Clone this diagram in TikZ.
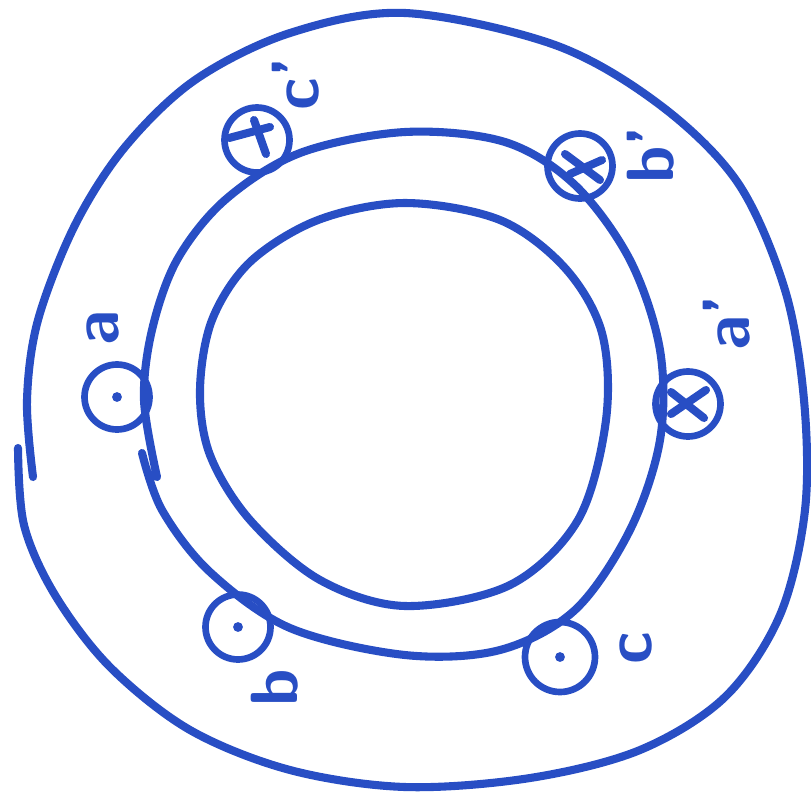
\documentclass[tikz,border=0pt]{standalone}
\usepackage{xcolor}
\definecolor{ink}{RGB}{40,78,196}
\begin{document}
\begin{tikzpicture}[x=0.02cm, y=-0.02cm, ink, line width=4.6pt, line cap=round, line join=round,
  every node/.style={font=\fontsize{38}{42}\selectfont\sffamily\bfseries, text=ink},
  poleloop/.style={circle, draw=ink, line width=3.8pt, minimum size=1.3cm, inner sep=0pt},
  polelbl/.style={rotate=90, inner sep=0pt}]
  \useasboundingbox (0,0) rectangle (811,795);
  \draw plot[smooth, tension=0.55] coordinates {(18,448) (24,525) (55,595) (110,667) (190,730) (290,770)
    (405,787) (530,778) (640,750) (725,697) (780,615) (805,510) (804,400) (785,290)
    (738,183) (660,105) (555,45) (405,13) (290,33) (195,80) (125,147) (75,225)
    (38,320) (27,400) (33,477)};
  \draw plot[smooth, tension=0.55] coordinates {(142,453) (162,510) (210,572) (290,628) (405,655)
    (500,650) (575,610) (630,530) (660,440) (660,350) (630,260) (575,185) (505,142)
    (405,132) (300,153) (225,200) (177,260) (152,330) (144,400) (157,477)};
  \draw plot[smooth cycle, tension=0.55] coordinates {(405,203) (500,220) (565,268) (602,333)
    (606,420) (578,520) (510,585) (405,606) (320,580) (250,520) (210,455)
    (200,390) (212,320) (250,262) (318,220)};
  \node[poleloop] (ap) at (117,397) {};
  \node[poleloop] (bp) at (238,627) {};
  \node[poleloop, minimum size=1.4cm] (cp) at (560,657) {};
  \node[poleloop] (apr) at (688,404) {};
  \node[poleloop] (bpr) at (580,166) {};
  \node[poleloop] (cpr) at (257,140) {};
  \fill (ap) circle (2.8pt);
  \fill (bp) circle (2.8pt);
  \fill (cp) circle (2.8pt);
  \draw ([shift={(-17,-12)}]apr.center) -- ([shift={(16,14)}]apr.center);
  \draw ([shift={(-17,10)}]apr.center) -- ([shift={(18,-14)}]apr.center);
  \draw ([shift={(-15,-12)}]bpr.center) -- ([shift={(20,14)}]bpr.center);
  \draw ([shift={(-10,8)}]bpr.center) -- ([shift={(22,-6)}]bpr.center);
  \draw ([shift={(-3,-20)}]cpr.center) -- ([shift={(9,14)}]cpr.center);
  \draw ([shift={(-28,-2)}]cpr.center) -- ([shift={(13,-13)}]cpr.center);
  \node[polelbl] (la) at (103,328) {a};
  \node[polelbl] (lb) at (275,688) {b};
  \node[polelbl] (lc) at (636,648) {c};
  \node[polelbl] (lapr) at (727,323) {a'};
  \node[polelbl] (lbpr) at (651,155) {b'};
  \node[polelbl] (lcpr) at (296,84) {c'};
\end{tikzpicture}
\end{document}
